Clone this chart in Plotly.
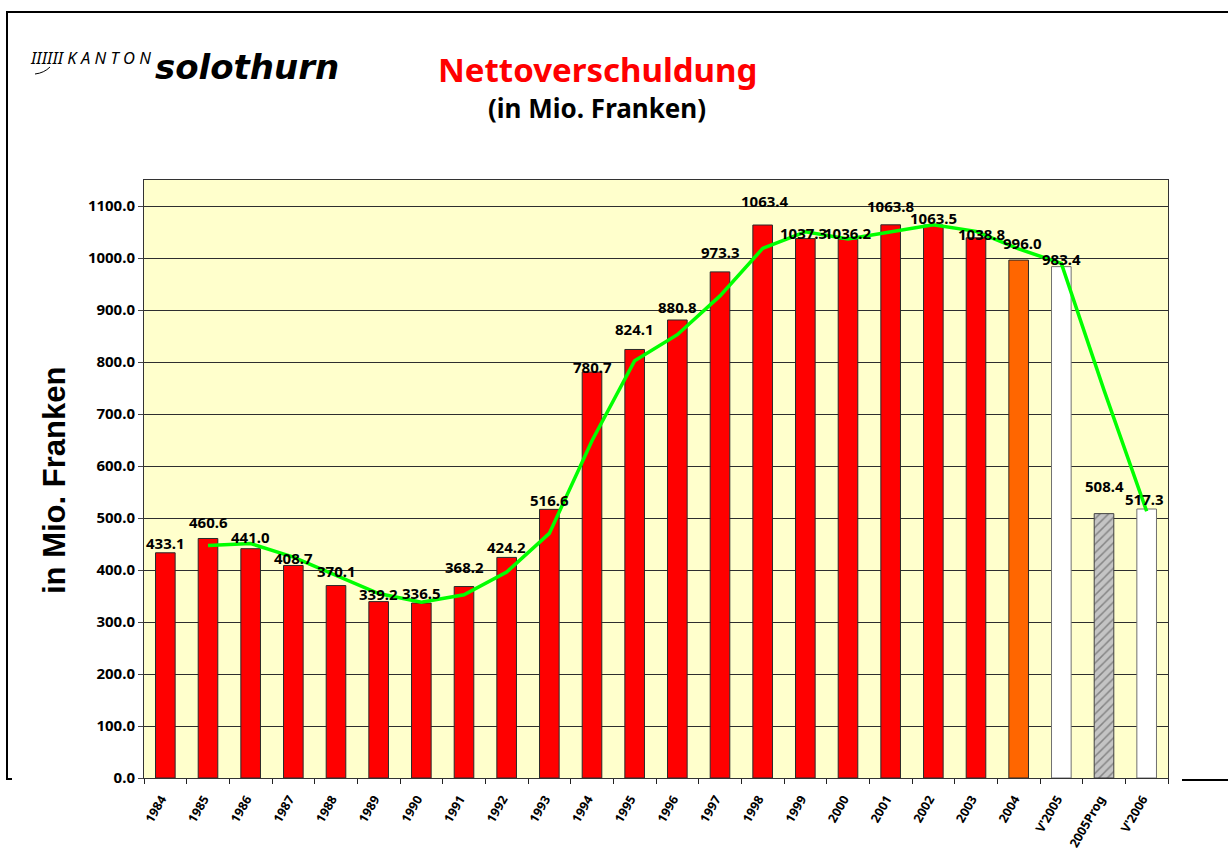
import plotly.graph_objects as go

# ---------------- data ----------------
categories = ["1984", "1985", "1986", "1987", "1988", "1989", "1990", "1991",
              "1992", "1993", "1994", "1995", "1996", "1997", "1998", "1999",
              "2000", "2001", "2002", "2003", "2004", "V'2005", "2005Prog", "V'2006"]
net_debt = [433.1, 460.6, 441.0, 408.7, 370.1, 339.2, 336.5, 368.2,
            424.2, 516.6, 780.7, 824.1, 880.8, 973.3, 1063.4, 1037.3,
            1036.2, 1063.8, 1063.5, 1038.8, 996.0, 983.4, 508.4, 517.3]
# 2-period trend line, starting at 1985
trend_categories = categories[1:]
trend_values = [446.9, 450.8, 424.9, 389.4, 354.7, 337.9, 352.4, 396.2,
                470.4, 648.7, 802.4, 852.5, 927.1, 1018.4, 1050.4, 1036.8,
                1050.0, 1063.7, 1051.2, 1017.4, 989.7, 745.9, 512.9]
y_ticks = [0, 100, 200, 300, 400, 500, 600, 700, 800, 900, 1000, 1100]

# ---------------- styles ----------------
bar_colors = ["#FF0000"] * 20 + ["#FF6600", "#FFFFFF", "#C4C4C4", "#FFFFFF"]
bar_patterns = [""] * 22 + ["/", ""]
bar_line_colors = ["#2A2A2A"] * 21 + ["#707070", "#404040", "#707070"]
label_yshift = [10, 16, 12, 7, 15, 8, 10, 20, 10, 9, 5, 20, 13, 20, 24, 6,
                6, 19, 7, 4, 17, 8, 28, 10]
label_xshift = [0] * 14 + [2, -2, 0, 0, 0, 6, 4, 0, 0, -2]

W, H = 1228, 854
L, R, T, B = 144, 1168, 180, 778


def pxx(px):
    return (px - L) / (R - L)


def pxy(py):
    return (B - py) / (B - T)


fig = go.Figure()

fig.add_trace(go.Bar(
    x=categories, y=net_debt,
    marker=dict(color=bar_colors,
                line=dict(color=bar_line_colors, width=1),
                pattern=dict(shape=bar_patterns, fgcolor="#8C8C8C",
                             size=6, solidity=0.25, fillmode="overlay")),
    showlegend=False, hoverinfo="x+y",
))

fig.add_trace(go.Scatter(
    x=trend_categories, y=trend_values, mode="lines",
    line=dict(color="#00FF00", width=3.5),
    showlegend=False, hoverinfo="skip",
))

annotations = []
for i, (v, ys, xs) in enumerate(zip(net_debt, label_yshift, label_xshift)):
    annotations.append(dict(
        x=i, y=v, xref="x", yref="y", text=f"{v:.1f}", showarrow=False,
        yanchor="middle", xanchor="center", yshift=ys, xshift=xs,
        font=dict(family="Noto Sans", size=15, color="black", weight="bold"),
    ))

# Titles
annotations.append(dict(
    x=pxx(597), y=pxy(70), xref="paper", yref="paper", text="Nettoverschuldung",
    showarrow=False, xanchor="center", yanchor="middle",
    font=dict(family="Noto Sans", size=33, color="#FF0000", weight="bold"),
))
annotations.append(dict(
    x=pxx(597), y=pxy(108), xref="paper", yref="paper", text="(in Mio. Franken)",
    showarrow=False, xanchor="center", yanchor="middle",
    font=dict(family="Noto Sans", size=26, color="black", weight="bold"),
))
# Logo
annotations.append(dict(
    x=pxx(28), y=pxy(58), xref="paper", yref="paper",
    text="<i>IIIIII K A N T O N</i>",
    showarrow=False, xanchor="left", yanchor="middle",
    font=dict(family="Noto Sans", size=16.5, color="black"),
))
annotations.append(dict(
    x=pxx(153), y=pxy(67), xref="paper", yref="paper",
    text="<b><i>solothurn</i></b>",
    showarrow=False, xanchor="left", yanchor="middle",
    font=dict(family="DejaVu Sans", size=34, color="black"),
))
# Y axis title
annotations.append(dict(
    x=pxx(54), y=pxy(481), xref="paper", yref="paper", text="in Mio. Franken",
    showarrow=False, xanchor="center", yanchor="middle", textangle=-90,
    font=dict(family="Liberation Sans", size=31, color="black", weight="bold"),
))

shapes = [
    # frame lines
    dict(type="line", xref="paper", yref="paper", x0=pxx(7), x1=pxx(7),
         y0=pxy(11), y1=pxy(779), line=dict(color="black", width=2)),
    dict(type="line", xref="paper", yref="paper", x0=pxx(6), x1=pxx(1230),
         y0=pxy(12), y1=pxy(12), line=dict(color="black", width=2)),
    dict(type="line", xref="paper", yref="paper", x0=pxx(6), x1=pxx(12),
         y0=pxy(779), y1=pxy(779), line=dict(color="black", width=2)),
    dict(type="line", xref="paper", yref="paper", x0=pxx(1182), x1=pxx(1230),
         y0=pxy(780), y1=pxy(780), line=dict(color="black", width=2)),
    # logo swoosh
    dict(type="path", xref="paper", yref="paper",
         path=f"M {pxx(35)},{pxy(74)} Q {pxx(44)},{pxy(73)} {pxx(50)},{pxy(67)}",
         line=dict(color="black", width=1)),
]

fig.update_layout(
    width=W, height=H,
    margin=dict(l=L, r=W - R, t=T, b=H - B, autoexpand=False),
    paper_bgcolor="white",
    plot_bgcolor="#FFFFCC",
    bargap=0.54,
    annotations=annotations,
    shapes=shapes,
    xaxis=dict(
        type="category", categoryorder="array", categoryarray=categories,
        range=[-0.5, len(categories) - 0.5], autorange=False,
        tickangle=-60, ticks="outside", tickson="boundaries", ticklen=5,
        tickcolor="#222", showline=True, linecolor="#333", linewidth=1,
        mirror=True, showgrid=False, ticklabelstandoff=8, ticklabelshift=-4,
        tickfont=dict(family="Noto Sans", size=12.5, color="black", weight="bold"),
    ),
    yaxis=dict(
        range=[0, 1150], autorange=False, tickvals=y_ticks, tickformat=".1f",
        ticks="outside", ticklen=5, tickcolor="#444",
        showline=True, linecolor="#333", linewidth=1, mirror=True,
        showgrid=True, gridcolor="#2E2E2E", gridwidth=1, zeroline=False,
        tickfont=dict(family="Noto Sans", size=15, color="black", weight="bold"),
    ),
)

fig.write_html("out.html",
               config={"displayModeBar": False},
               post_script="document.body.style.margin='0';document.body.style.overflow='hidden';")
